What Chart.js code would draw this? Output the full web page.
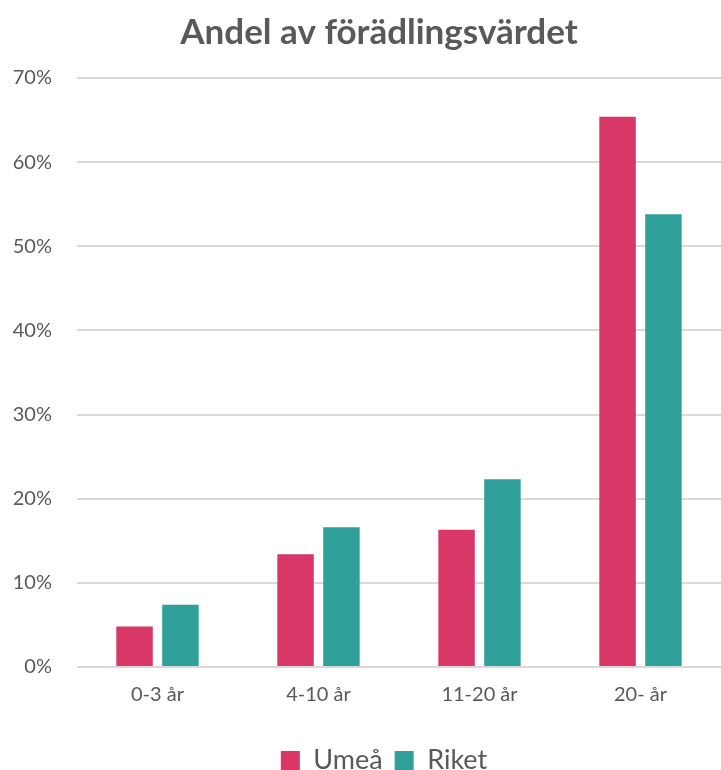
<!DOCTYPE html>
<html>
<head>
<meta charset="utf-8">
<script src="https://cdn.jsdelivr.net/npm/chart.js@4/dist/chart.umd.min.js"></script>
<style>
  html, body { margin: 0; padding: 0; background: #fff; }
  #wrap { width: 721px; height: 770px; }
</style>
</head>
<body>
<div id="wrap"><canvas id="graf" width="721" height="770"></canvas></div>
<script>
// företagens ålder och andel av förädlingsvärdet (procent)
var kategorier = ['0-3 år', '4-10 år', '11-20 år', '20- år'];
var umea = [4.8, 13.4, 16.3, 65.4];
var riket = [7.4, 16.6, 22.3, 53.8];
var yTicks = [0, 10, 20, 30, 40, 50, 60, 70];

var grå = '#595959';

// flyttar titel och förklaring lite åt höger, mot mitten av staplarna
var flyttaRubrik = {
    id: 'flyttaRubrik',
    afterLayout: function (chart) {
        if (chart.titleBlock) chart.titleBlock.left = 37;
        if (chart.legend) chart.legend.left = 47;
    }
};

var ctx = document.getElementById('graf').getContext('2d');
var myChart = new Chart(ctx, {
    type: 'bar',
    data: {
        labels: kategorier,
        datasets: [{
            label: 'Umeå',
            data: umea,
            backgroundColor: '#D83768',
            borderWidth: 0
        }, {
            label: 'Riket',
            data: riket,
            backgroundColor: '#30A19A',
            borderWidth: 0
        }]
    },
    plugins: [flyttaRubrik],
    options: {
        responsive: false,
        animation: false,
        categoryPercentage: 0.57,
        barPercentage: 0.795,
        layout: { padding: { left: 0, right: 0, top: 4, bottom: -14 } },
        plugins: {
            title: {
                display: true,
                text: 'Andel av förädlingsvärdet',
                color: grå,
                font: { family: 'Lato', size: 35, weight: 'bold' },
                padding: { top: 8, bottom: 24 }
            },
            legend: {
                position: 'bottom',
                labels: {
                    color: grå,
                    font: { family: 'Lato', size: 27 },
                    boxWidth: 19,
                    boxHeight: 19,
                    padding: 12
                }
            },
            tooltip: { enabled: false }
        },
        scales: {
            x: {
                grid: { display: false },
                border: { display: false },
                afterFit: function (axis) { axis.height = 68; },
                ticks: {
                    color: grå,
                    font: { family: 'Lato', size: 20 },
                    padding: 8
                }
            },
            y: {
                min: 0,
                max: 70,
                afterBuildTicks: function (axis) {
                    axis.ticks = yTicks.map(function (v) { return { value: v }; });
                },
                afterFit: function (axis) { axis.width = 77; },
                grid: { color: '#D9D9D9', lineWidth: 2, drawTicks: false },
                border: { display: false },
                ticks: {
                    color: grå,
                    font: { family: 'Lato', size: 20 },
                    padding: 25,
                    callback: function (v) { return v + '%'; }
                }
            }
        }
    }
});
</script>
</body>
</html>
